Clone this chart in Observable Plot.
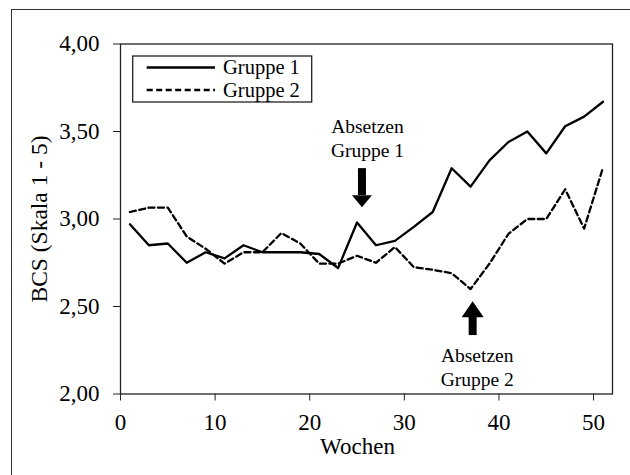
<!DOCTYPE html>
<html>
<head>
<meta charset="utf-8">
<script src="https://cdn.jsdelivr.net/npm/d3@7"></script>
<script src="https://cdn.jsdelivr.net/npm/@observablehq/plot@0.6"></script>
<style>
  html, body { margin: 0; padding: 0; background: #fff; }
  #wrap { position: relative; width: 630px; height: 475px; overflow: hidden; background: #fff; }
  #outer { position: absolute; left: 11px; top: 9px; width: 800px; height: 800px; border: 1.3px solid #333; box-sizing: border-box; }
  #chart { position: absolute; left: 0; top: 0; }
  #legend { position: absolute; left: 0; top: 0; }
  #chart svg text { font-family: "Liberation Serif", "Times New Roman", serif; }
</style>
</head>
<body>
<div id="wrap">
  <div id="outer"></div>
  <div id="chart"></div>
  <svg id="legend" width="630" height="475"></svg>
</div>
<script>
// ---- data ----
const weeks = [1,3,5,7,9,11,13,15,17,19,21,23,25,27,29,31,33,35,37,39,41,43,45,47,49,51];
const gruppe1 = [2.97,2.85,2.86,2.75,2.81,2.775,2.85,2.81,2.81,2.81,2.80,2.72,2.98,2.85,2.875,2.955,3.04,3.29,3.185,3.335,3.44,3.50,3.375,3.53,3.585,3.67];
const gruppe2 = [3.04,3.065,3.065,2.90,2.83,2.745,2.81,2.81,2.92,2.86,2.745,2.745,2.79,2.75,2.84,2.725,2.71,2.69,2.60,2.745,2.915,3.00,3.00,3.17,2.945,3.295];
const seriesNames = ["Gruppe 1", "Gruppe 2"];
const xTicks = [0,10,20,30,40,50];
const yTicks = [2.0,2.5,3.0,3.5,4.0];
const xLabel = "Wochen";
const yLabel = "BCS (Skala 1 - 5)";
const annotationText = ["Absetzen\nGruppe 1", "Absetzen\nGruppe 2"];
const annotationX = [26.1, 37.7];
const annotationY = [3.466, 2.158];
const arrowX = [25.52, 37.22];
const arrowTail = [3.288, 2.334];
const arrowHeadBase = [3.134, 2.45];
const arrowTip = [3.067, 2.530];

// ---- tables ----
const rows1 = weeks.map((w, i) => ({week: w, value: gruppe1[i]}));
const rows2 = weeks.map((w, i) => ({week: w, value: gruppe2[i]}));
const annotations = annotationText.map((t, i) => ({x: annotationX[i], y: annotationY[i], text: t}));
const shafts = arrowX.map((x, i) => ({x, y1: arrowTail[i], y2: arrowHeadBase[i]}));
const heads = arrowX.map((x, i) => ({x, y: arrowTip[i]}));

function headSymbol(halfW, h) {
  return { draw(ctx) { ctx.moveTo(0, 0); ctx.lineTo(-halfW, -h); ctx.lineTo(halfW, -h); ctx.closePath(); } };
}

const serif = "Liberation Serif";

const plot = Plot.plot({
  width: 630,
  height: 475,
  marginLeft: 120,
  marginRight: 18,
  marginTop: 43.5,
  marginBottom: 81.5,
  style: { fontFamily: serif, fontSize: "23px", color: "#222", background: "transparent", overflow: "visible" },
  x: { domain: [0, 52] },
  y: { domain: [2, 4] },
  marks: [
    Plot.axisY({ ticks: yTicks, tickSize: 7, tickPadding: 14, tickFormat: d => d.toFixed(2).replace(".", ","), label: null, fill: "#000", fontFamily: serif, fontSize: 23, fontVariant: "normal" }),
    Plot.axisX({ ticks: xTicks, tickSize: 7, tickPadding: 13, tickFormat: d => String(d), label: null, fill: "#000", fontFamily: serif, fontSize: 23, fontVariant: "normal" }),
    Plot.frame({ stroke: "#222", strokeWidth: 1.3 }),
    Plot.line(rows1, { x: "week", y: "value", stroke: "#000", strokeWidth: 2.3 }),
    Plot.line(rows2, { x: "week", y: "value", stroke: "#000", strokeWidth: 2.3, strokeDasharray: "6,3.5" }),
    Plot.ruleX(shafts, { x: "x", y1: "y1", y2: "y2", stroke: "#000", strokeWidth: 8 }),
    Plot.dot([heads[0]], { x: "x", y: "y", symbol: headSymbol(10, 12), fill: "#000", stroke: null, r: 5 }),
    Plot.dot([heads[1]], { x: "x", y: "y", symbol: headSymbol(11, 16), fill: "#000", stroke: null, r: 5, rotate: 180 }),
    Plot.text(annotations, { x: "x", y: "y", text: "text", fontSize: 19.5, lineHeight: 1.23, fill: "#000", fontFamily: serif }),
    Plot.text([xLabel], { frameAnchor: "bottom", lineAnchor: "middle", textAnchor: "middle", dy: 52.5, dx: -9, fontSize: 23, fill: "#000", fontFamily: serif }),
    Plot.text([yLabel], { frameAnchor: "left", lineAnchor: "middle", textAnchor: "middle", dx: -81, rotate: -90, fontSize: 23.5, fill: "#000", fontFamily: serif })
  ]
});
document.getElementById("chart").appendChild(plot);

// ---- legend ----
const lg = d3.select("#legend");
lg.append("rect").attr("x", 132.7).attr("y", 56).attr("width", 179).attr("height", 46)
  .attr("fill", "#fff").attr("stroke", "#222").attr("stroke-width", 1.3);
const legendY = [67.5, 90];
const dashes = [null, "6,3.5"];
seriesNames.forEach((name, i) => {
  lg.append("line").attr("x1", 146.7).attr("x2", 215).attr("y1", legendY[i]).attr("y2", legendY[i])
    .attr("stroke", "#000").attr("stroke-width", 2.3).attr("stroke-dasharray", dashes[i]);
  lg.append("text").attr("x", 223).attr("y", legendY[i]).attr("dy", "0.34em")
    .attr("font-family", serif).attr("font-size", 20.5).attr("fill", "#000").text(name);
});
</script>
</body>
</html>
